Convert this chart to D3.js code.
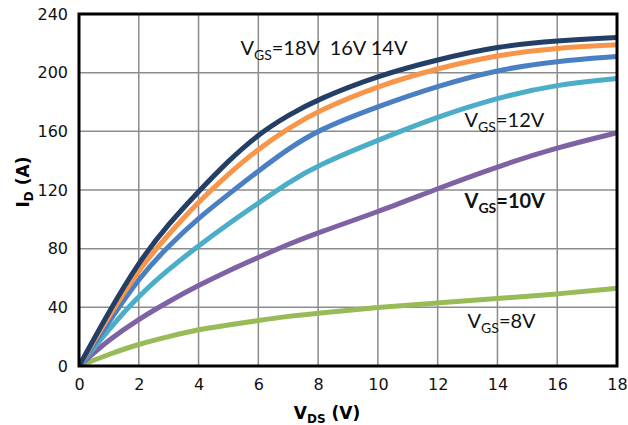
<!DOCTYPE html>
<html>
<head>
<meta charset="utf-8">
<script src="https://cdn.jsdelivr.net/npm/d3@7"></script>
<style>
  body { margin: 0; background: #fff; }
  .tick text { font-family: "DejaVu Sans", sans-serif; font-size: 16px; fill: #111; }
  .lbl { font-family: Lato, "Open Sans", sans-serif; font-size: 20px; fill: #111; white-space: pre; }
</style>
</head>
<body>
<script>
// Data
var vds  = [0, 1, 2, 3, 4, 5, 6, 7, 8, 10, 12, 14, 16, 18];
var id18 = [0, 37, 71, 97, 119, 140, 158, 171, 182, 198, 209, 218, 222, 224];
var id16 = [0, 34, 66, 90, 112, 131, 148, 162, 174, 191, 203, 212, 217, 219];
var id14 = [0, 30, 60, 82, 101, 117, 133, 148, 161, 177, 191, 202, 208, 211];
var id12 = [0, 25, 48, 66, 82, 97, 111, 125, 137, 154, 170, 183, 192, 196];
var id10 = [0, 18, 32, 44, 55, 65, 74, 83, 91, 105, 121, 136, 149, 159];
var id8  = [0, 8, 15, 20, 25, 28, 31, 34, 36, 40, 43, 46, 49, 53];
var seriesColors = ["#243f66", "#f7964a", "#4b7fc3", "#4badc8", "#7e62a3", "#98bb57"];
var xTicks = [0, 2, 4, 6, 8, 10, 12, 14, 16, 18];
var yTicks = [0, 40, 80, 120, 160, 200, 240];

var W = 628, H = 425;
var margin = {top: 14, right: 11, bottom: 59, left: 79},
    width = W - margin.left - margin.right,
    height = H - margin.top - margin.bottom;

var svg = d3.select("body").append("svg")
    .attr("width", W)
    .attr("height", H);
var g = svg.append("g")
    .attr("transform", "translate(" + margin.left + "," + margin.top + ")");

var x = d3.scaleLinear().domain([0, 18]).range([0, width]);
var y = d3.scaleLinear().domain([0, 240]).range([height, 0]);

// grid
g.append("g").selectAll("line").data(xTicks.slice(1, -1)).enter().append("line")
    .attr("x1", function(d) { return x(d); }).attr("x2", function(d) { return x(d); })
    .attr("y1", 0).attr("y2", height)
    .style("stroke", "#8c8c8c").style("stroke-width", 1.5);
g.append("g").selectAll("line").data(yTicks.slice(1, -1)).enter().append("line")
    .attr("y1", function(d) { return y(d); }).attr("y2", function(d) { return y(d); })
    .attr("x1", 0).attr("x2", width)
    .style("stroke", "#8c8c8c").style("stroke-width", 1.5);

// axes
var xaxis = d3.axisBottom(x).tickValues(xTicks).tickSize(0).tickPadding(13);
var yaxis = d3.axisLeft(y).tickValues(yTicks).tickSize(0).tickPadding(11);
g.append("g").attr("transform", "translate(0," + height + ")").call(xaxis)
    .select(".domain").remove();
g.append("g").call(yaxis).select(".domain").remove();

// curves
var all = [id18, id16, id14, id12, id10, id8];
var line = d3.line()
    .x(function(d, i) { return x(vds[i]); })
    .y(function(d) { return y(d); })
    .curve(d3.curveBasis);

g.append("defs").append("clipPath").attr("id", "clip")
    .append("rect").attr("width", width).attr("height", height);

g.append("g").attr("clip-path", "url(#clip)").selectAll("path")
    .data(all.slice().reverse()).enter().append("path")
    .attr("d", line)
    .style("fill", "none")
    .style("stroke", function(d, i) { return seriesColors[all.length - 1 - i]; })
    .style("stroke-width", 5)
    .style("stroke-linecap", "round");

// frame
g.append("rect").attr("width", width).attr("height", height)
    .style("fill", "none").style("stroke", "#000").style("stroke-width", 3);

// curve labels
function vgs(xv, yv, rest, bold) {
    var t = g.append("text").attr("class", "lbl")
        .attr("x", x(xv)).attr("y", y(yv));
    if (bold) t.style("font-weight", "bold");
    t.append("tspan").text("V");
    t.append("tspan").attr("dy", 5).style("font-size", "14px").text("GS");
    t.append("tspan").attr("dy", -5).text(rest);
    return t;
}
vgs(5.4, 212, "=18V  16V 14V", false);
vgs(12.9, 163, "=12V", false);
vgs(12.9, 108, "=10V", true);
vgs(13.0, 26, "=8V", false);

// axis titles
var xt = svg.append("text")
    .attr("x", 327).attr("y", 419)
    .attr("text-anchor", "middle")
    .style("font-family", "DejaVu Sans, sans-serif")
    .style("font-weight", "bold").style("font-size", "17px");
xt.append("tspan").text("V");
xt.append("tspan").attr("dy", 4).style("font-size", "12px").text("DS");
xt.append("tspan").attr("dy", -4).text(" (V)");

var yt = svg.append("text")
    .attr("transform", "translate(29,182) rotate(-90)")
    .attr("text-anchor", "middle")
    .style("font-family", "DejaVu Sans, sans-serif")
    .style("font-weight", "bold").style("font-size", "17px");
yt.append("tspan").text("I");
yt.append("tspan").attr("dy", 4).style("font-size", "12px").text("D");
yt.append("tspan").attr("dy", -4).text(" (A)");
</script>
</body>
</html>
